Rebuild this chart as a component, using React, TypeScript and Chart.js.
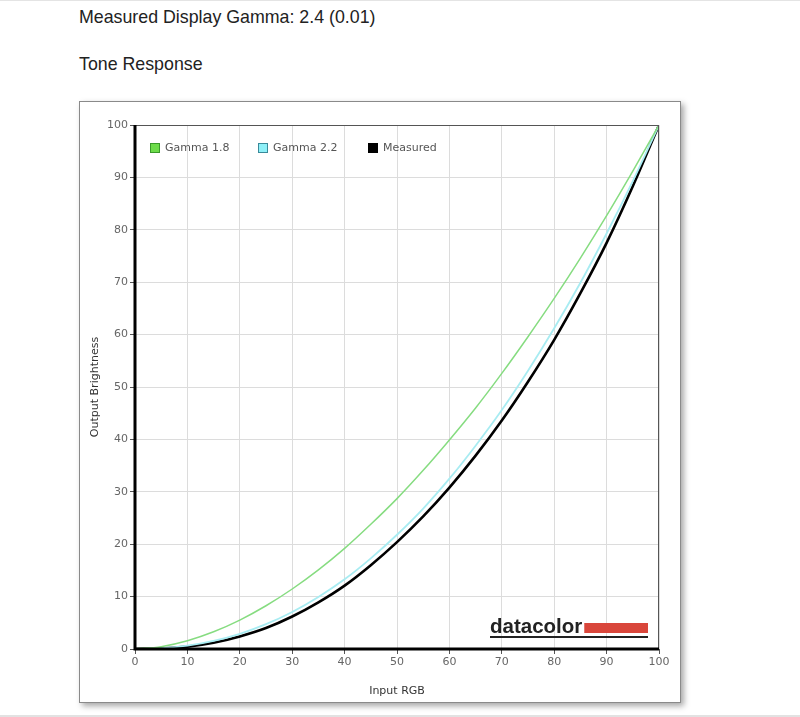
import React, { useEffect, useRef } from 'react';
import { Chart, registerables } from 'chart.js';

Chart.register(...registerables);

// input RGB steps (x axis)
const inputRGB = [0, 5, 10, 15, 20, 25, 30, 35, 40, 45, 50, 55, 60, 65, 70, 75, 80, 85, 90, 95, 100];
const gamma18 = [0, 0.45, 1.58, 3.29, 5.52, 8.25, 11.45, 15.1, 19.2, 23.8, 28.7, 34.1, 39.9, 46.0, 52.6, 59.6, 66.9, 74.6, 82.7, 91.2, 100];
const gamma22 = [0, 0.14, 0.63, 1.54, 2.9, 4.74, 7.07, 9.93, 13.3, 17.3, 21.8, 26.8, 32.5, 38.8, 45.6, 53.1, 61.2, 69.9, 79.3, 89.3, 100];
const measured = [0, 0.1, 0.45, 1.2, 2.4, 4.0, 6.2, 8.9, 12.1, 16.0, 20.4, 25.3, 30.8, 36.9, 43.6, 51.0, 59.0, 67.9, 77.5, 88.3, 100];
const tickValues = [0, 10, 20, 30, 40, 50, 60, 70, 80, 90, 100];

const legendItems = [
    { label: 'Gamma 1.8', fill: '#6ddc4a', stroke: '#3a9a2a' },
    { label: 'Gamma 2.2', fill: '#8ef0f8', stroke: '#3a8a9a' },
    { label: 'Measured', fill: '#000000', stroke: '#000000' },
];

const boxPlugin = {
    id: 'boxAndExtras',
    afterDatasetsDraw(chart: any) {
        const { ctx, chartArea } = chart;
        const { left, top, right, bottom } = chartArea;
        ctx.save();
        // thin box top/right
        ctx.strokeStyle = '#555';
        ctx.lineWidth = 1;
        ctx.strokeRect(left, top + 0.5, right - left - 0.5, bottom - top);
        // thick axes
        ctx.strokeStyle = '#000';
        ctx.lineWidth = 3;
        ctx.beginPath();
        ctx.moveTo(left, top);
        ctx.lineTo(left, bottom);
        ctx.lineTo(right, bottom);
        ctx.stroke();

        // legend inside plot
        ctx.font = '11px "DejaVu Sans", sans-serif';
        ctx.textBaseline = 'middle';
        const xs = [15, 123, 233];
        const ly = top + 23;
        legendItems.forEach((it, i) => {
            const x = left + xs[i];
            ctx.fillStyle = it.fill;
            ctx.fillRect(x, ly - 5, 10, 10);
            ctx.strokeStyle = it.stroke;
            ctx.lineWidth = 1;
            ctx.strokeRect(x + 0.5, ly - 4.5, 9, 9);
            ctx.fillStyle = '#555';
            ctx.fillText(it.label, x + 15, ly + 0.5);
        });

        // datacolor logo
        const lx = right - 169;
        const lbase = bottom - 16;
        ctx.font = 'bold 20.5px "Liberation Sans", Arial, sans-serif';
        ctx.textBaseline = 'alphabetic';
        ctx.fillStyle = '#222';
        ctx.fillText('datacolor', lx, lbase);
        const tw = ctx.measureText('datacolor').width;
        ctx.fillStyle = '#d9463b';
        ctx.fillRect(lx + tw + 2, lbase - 10, 158 - tw - 2, 10);
        ctx.fillStyle = '#222';
        ctx.fillRect(lx, lbase + 3, 158, 2);
        ctx.restore();
    },
};

const ToneChart: React.FC = () => {
    const chartRef = useRef<HTMLCanvasElement | null>(null);
    const chartInstanceRef = useRef<Chart | null>(null);

    useEffect(() => {
        const canvas = chartRef.current;
        if (!canvas) return;
        if (chartInstanceRef.current) chartInstanceRef.current.destroy();

        const tickFont = { family: '"DejaVu Sans", sans-serif', size: 11 };
        const lineCommon = { pointRadius: 0, cubicInterpolationMode: 'monotone' };
        chartInstanceRef.current = new Chart(canvas, {
            type: 'line',
            data: {
                datasets: [
                    {
                        label: 'Gamma 1.8',
                        data: inputRGB.map((x, i) => ({ x, y: gamma18[i] })),
                        borderColor: '#86dc80',
                        borderWidth: 1.5,
                        ...lineCommon,
                    },
                    {
                        label: 'Gamma 2.2',
                        data: inputRGB.map((x, i) => ({ x, y: gamma22[i] })),
                        borderColor: '#a8ecf2',
                        borderWidth: 1.8,
                        ...lineCommon,
                    },
                    {
                        label: 'Measured',
                        data: inputRGB.map((x, i) => ({ x, y: measured[i] })),
                        borderColor: '#000',
                        borderWidth: 2.6,
                        ...lineCommon,
                    },
                ],
            },
            options: {
                animation: false,
                responsive: false,
                maintainAspectRatio: false,
                layout: { padding: { top: 23, right: 21, left: 0, bottom: 0 } },
                plugins: {
                    legend: { display: false },
                    tooltip: { enabled: false },
                },
                scales: {
                    x: {
                        type: 'linear',
                        min: 0,
                        max: 100,
                        afterBuildTicks: (s: any) => { s.ticks = tickValues.map(v => ({ value: v })); },
                        afterFit: (s: any) => { s.height = 53; },
                        grid: { color: '#dcdcdc', tickLength: 5, tickColor: '#555' },
                        border: { display: false },
                        ticks: { color: '#666', font: tickFont, padding: 2, maxRotation: 0 },
                        title: { display: true, text: 'Input RGB', color: '#333', font: { family: '"DejaVu Sans", sans-serif', size: 11 }, padding: { top: 9 } },
                    },
                    y: {
                        type: 'linear',
                        min: 0,
                        max: 100,
                        afterBuildTicks: (s: any) => { s.ticks = tickValues.map(v => ({ value: v })); },
                        afterFit: (s: any) => { s.width = 55; },
                        grid: { color: '#dcdcdc', tickLength: 5, tickColor: '#555' },
                        border: { display: false },
                        ticks: { color: '#666', font: tickFont, padding: 2 },
                        title: { display: true, text: 'Output Brightness', color: '#333', font: { family: '"DejaVu Sans", sans-serif', size: 11 }, padding: { top: 9, bottom: 0 } },
                    },
                },
            },
            plugins: [boxPlugin],
        } as any);

        return () => {
            if (chartInstanceRef.current) {
                chartInstanceRef.current.destroy();
                chartInstanceRef.current = null;
            }
        };
    }, []);

    return <canvas ref={chartRef} width={600} height={600} style={{ width: 600, height: 600, display: 'block' }} />;
};

const App: React.FC = () => {
    const textStyle: React.CSSProperties = {
        position: 'absolute',
        left: 79,
        fontFamily: '"Liberation Sans", Arial, sans-serif',
        fontSize: 17.8,
        color: '#222',
        whiteSpace: 'nowrap',
    };
    return (
        <div style={{ position: 'absolute', left: 0, top: 0, width: 800, height: 717, background: '#fff', overflow: 'hidden' }}>
            <div style={{ position: 'absolute', left: 0, top: 0, width: 800, height: 1, background: '#e4e4e4' }} />
            <div style={{ ...textStyle, top: 7 }}>Measured Display Gamma: 2.4 (0.01)</div>
            <div style={{ ...textStyle, top: 54 }}>Tone Response</div>
            <div
                style={{
                    position: 'absolute',
                    left: 79,
                    top: 101,
                    width: 600,
                    height: 600,
                    border: '1px solid #8a8a8a',
                    boxShadow: '3px 3px 6px rgba(0,0,0,0.35)',
                    background: '#fff',
                }}
            >
                <ToneChart />
            </div>
            <div style={{ position: 'absolute', left: 0, top: 715, width: 800, height: 2, background: '#e2e2e2' }} />
        </div>
    );
};

export default App;
